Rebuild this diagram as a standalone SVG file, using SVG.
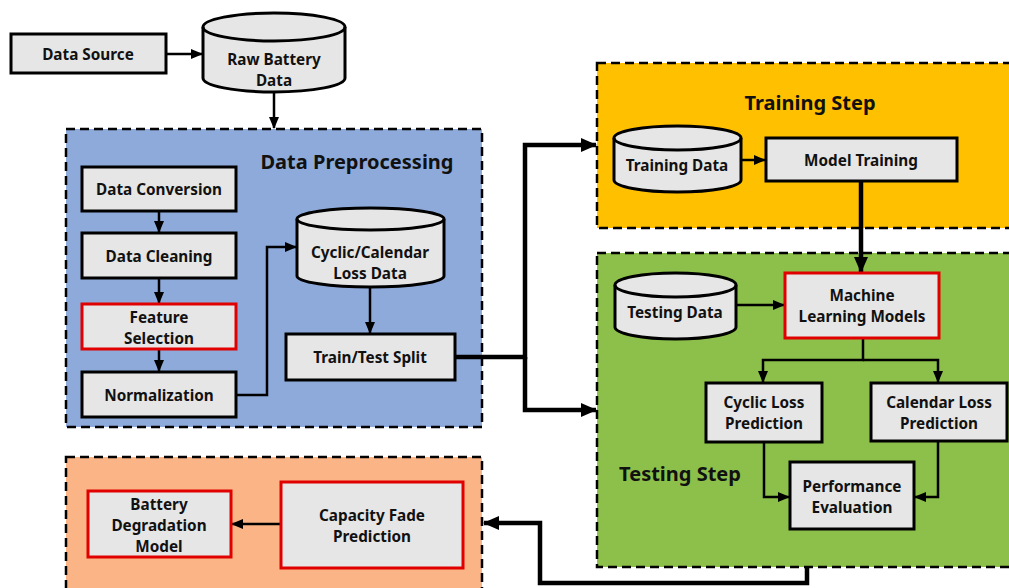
<svg xmlns="http://www.w3.org/2000/svg" width="1009" height="588" viewBox="0 0 1009 588">
  <style>
    .frame { stroke: #000; stroke-width: 2.5; stroke-dasharray: 9 5; }
    .box { fill: #e7e6e6; stroke: #000; stroke-width: 3; }
    .key { fill: #e7e6e6; stroke: #e00000; stroke-width: 3; }
    .cyl { fill: #e7e6e6; stroke: #000; stroke-width: 3; }
    .rim { fill: none; stroke: #000; stroke-width: 3; }
    text { font-family: "Noto Sans", "Open Sans", "Liberation Sans", sans-serif; font-weight: bold; fill: #111; text-anchor: middle; }
    .lbl { font-size: 15.3px; }
    .title { font-size: 20px; }
    .thin { fill: none; stroke: #000; stroke-width: 2.5; marker-end: url(#ah); }
    .thick { fill: none; stroke: #000; stroke-width: 4.5; marker-end: url(#ahb); }
  </style>
  <defs>
    <marker id="ah" markerUnits="userSpaceOnUse" markerWidth="12" markerHeight="10" refX="11" refY="5" orient="auto">
      <path d="M0,0 L12,5 L0,10 Z" fill="#000"/>
    </marker>
    <marker id="ahb" markerUnits="userSpaceOnUse" markerWidth="16" markerHeight="14" refX="15" refY="7" orient="auto">
      <path d="M0,0 L16,7 L0,14 Z" fill="#000"/>
    </marker>
  </defs>

  <rect width="1009" height="588" fill="#fff"/>

  <!-- stage frames -->
  <g id="preprocessing">
    <rect class="frame" x="66" y="129" width="416" height="298" fill="#8eaadb"/>
    <text class="title" x="357" y="169">Data Preprocessing</text>
  </g>
  <g id="training-step">
    <rect class="frame" x="597" y="63" width="420" height="165" fill="#ffc000"/>
    <text class="title" x="810" y="110">Training Step</text>
  </g>
  <g id="testing-step">
    <rect class="frame" x="597" y="253" width="420" height="314" fill="#8cc04a"/>
    <text class="title" x="680" y="481">Testing Step</text>
  </g>
  <g id="degradation-stage">
    <rect class="frame" x="66" y="457" width="416" height="140" fill="#fbb486"/>
  </g>

  <!-- connectors -->
  <g id="connectors">
    <path class="thin" d="M166,54 H202"/>
    <path class="thin" d="M274,93 V128"/>
    <path class="thin" d="M159,211 V232"/>
    <path class="thin" d="M159,278 V303"/>
    <path class="thin" d="M159,349 V371"/>
    <path class="thin" d="M236,395 H267 V247 H296"/>
    <path class="thin" d="M370,288 V333"/>
    <path class="thick" d="M455,357 H525 V145 H596"/>
    <path class="thick" d="M525,357 V410 H596"/>
    <path class="thin" d="M741,160 H765"/>
    <path class="thick" d="M861,181 V272"/>
    <path class="thin" d="M736,305 H784"/>
    <path class="thin" d="M863,338 V360 H763 V382"/>
    <path class="thin" d="M863,360 H938 V382"/>
    <path class="thin" d="M764,442 V497 H789"/>
    <path class="thin" d="M938,441 V497 H915"/>
    <path class="thick" d="M807,567 V583 H540 V523 H484"/>
    <path class="thin" d="M281,524 H232"/>
  </g>

  <!-- nodes -->
  <g id="data-source">
    <rect class="box" x="11" y="34" width="155" height="39"/>
    <text class="lbl" x="88" y="60">Data Source</text>
  </g>
  <g id="raw-battery-data">
    <path class="cyl" d="M203,27 A71,14 0 0 1 345,27 V78 A71,14 0 0 1 203,78 Z"/>
    <path class="rim" d="M203,27 A71,14 0 0 0 345,27"/>
    <text class="lbl" x="274" y="65">Raw Battery</text>
    <text class="lbl" x="274" y="86">Data</text>
  </g>
  <g id="data-conversion">
    <rect class="box" x="82" y="167" width="154" height="44"/>
    <text class="lbl" x="159" y="195">Data Conversion</text>
  </g>
  <g id="data-cleaning">
    <rect class="box" x="82" y="233" width="154" height="45"/>
    <text class="lbl" x="159" y="262">Data Cleaning</text>
  </g>
  <g id="feature-selection">
    <rect class="key" x="82" y="304" width="154" height="45"/>
    <text class="lbl" x="159" y="323">Feature</text>
    <text class="lbl" x="159" y="344">Selection</text>
  </g>
  <g id="normalization">
    <rect class="box" x="82" y="372" width="154" height="45"/>
    <text class="lbl" x="159" y="401">Normalization</text>
  </g>
  <g id="loss-data">
    <path class="cyl" d="M297,219 A73.5,11 0 0 1 444,219 V276 A73.5,11 0 0 1 297,276 Z"/>
    <path class="rim" d="M297,219 A73.5,11 0 0 0 444,219"/>
    <text class="lbl" x="370" y="258">Cyclic/Calendar</text>
    <text class="lbl" x="370" y="279">Loss Data</text>
  </g>
  <g id="train-test-split">
    <rect class="box" x="286" y="334" width="169" height="46"/>
    <text class="lbl" x="370" y="363">Train/Test Split</text>
  </g>
  <g id="training-data">
    <path class="cyl" d="M614,138 A63.5,12 0 0 1 741,138 V180 A63.5,12 0 0 1 614,180 Z"/>
    <path class="rim" d="M614,138 A63.5,12 0 0 0 741,138"/>
    <text class="lbl" x="677" y="171">Training Data</text>
  </g>
  <g id="model-training">
    <rect class="box" x="766" y="138" width="191" height="43"/>
    <text class="lbl" x="861" y="166">Model Training</text>
  </g>
  <g id="testing-data">
    <path class="cyl" d="M615,285 A60.5,12 0 0 1 736,285 V327 A60.5,12 0 0 1 615,327 Z"/>
    <path class="rim" d="M615,285 A60.5,12 0 0 0 736,285"/>
    <text class="lbl" x="675" y="318">Testing Data</text>
  </g>
  <g id="ml-models">
    <rect class="key" x="785" y="273" width="154" height="65"/>
    <text class="lbl" x="862" y="301">Machine</text>
    <text class="lbl" x="862" y="322">Learning Models</text>
  </g>
  <g id="cyclic-loss-prediction">
    <rect class="box" x="706" y="383" width="116" height="59"/>
    <text class="lbl" x="764" y="408">Cyclic Loss</text>
    <text class="lbl" x="764" y="429">Prediction</text>
  </g>
  <g id="calendar-loss-prediction">
    <rect class="box" x="871" y="383" width="136" height="58"/>
    <text class="lbl" x="939" y="408">Calendar Loss</text>
    <text class="lbl" x="939" y="429">Prediction</text>
  </g>
  <g id="performance-evaluation">
    <rect class="box" x="790" y="462" width="124" height="67"/>
    <text class="lbl" x="852" y="492">Performance</text>
    <text class="lbl" x="852" y="513">Evaluation</text>
  </g>
  <g id="capacity-fade-prediction">
    <rect class="key" x="281" y="482" width="182" height="86"/>
    <text class="lbl" x="372" y="521">Capacity Fade</text>
    <text class="lbl" x="372" y="542">Prediction</text>
  </g>
  <g id="battery-degradation-model">
    <rect class="key" x="88" y="491" width="143" height="66"/>
    <text class="lbl" x="159" y="510">Battery</text>
    <text class="lbl" x="159" y="531">Degradation</text>
    <text class="lbl" x="159" y="552">Model</text>
  </g>
</svg>
